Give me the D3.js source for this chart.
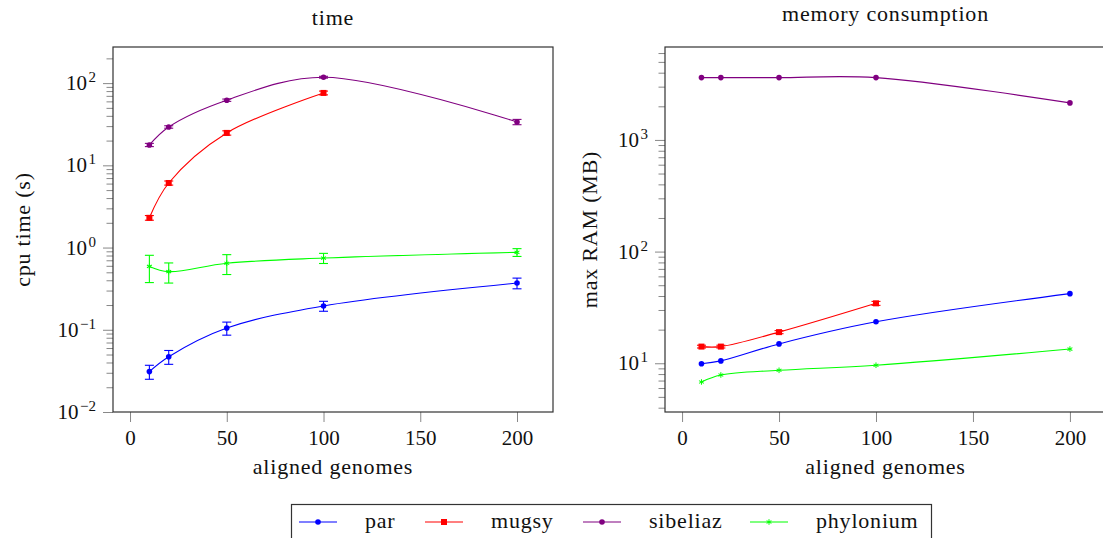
<!DOCTYPE html>
<html>
<head>
<meta charset="utf-8">
<script src="https://cdn.jsdelivr.net/npm/d3@7"></script>
<style>
  body { margin: 0; background: #fff; }
  svg text { font-family: "Liberation Serif", "DejaVu Serif", serif; fill: #111; }
  .lbl { letter-spacing: 0.8px; }
</style>
</head>
<body>
<div id="chart"></div>
<script>
// data
var genomes = [10, 20, 50, 100, 200];
var seriesNames = ["par", "mugsy", "sibeliaz", "phylonium"];
var seriesColors = ["#0000ff", "#ff0000", "#800080", "#00ff00"];
var seriesMarks = ["circle", "square", "circle", "star"];

var timePar = [0.031, 0.047, 0.105, 0.195, 0.37];
var timeParErr = [0.006, 0.009, 0.019, 0.027, 0.055];
var timeMugsy = [2.3, 6.1, 24.8, 76];
var timeMugsyErr = [0.15, 0.35, 1.5, 4];
var timeSibeliaz = [17.7, 29.3, 62, 118, 33.7];
var timeSibeliazErr = [0.8, 1, 2, 3, 2.5];
var timePhylonium = [0.59, 0.51, 0.645, 0.745, 0.875];
var timePhyloniumErr = [0.215, 0.14, 0.175, 0.105, 0.095];

var memPar = [9.9, 10.5, 14.9, 23.5, 42];
var memMugsy = [14.1, 14.1, 19.0, 34.4];
var memMugsyErr = [0.4, 0.4, 0.6, 1.4];
var memSibeliaz = [3615, 3615, 3615, 3615, 2145];
var memPhylonium = [6.8, 7.85, 8.65, 9.6, 13.4];

var xTicks = [0, 50, 100, 150, 200];

var width = 1103, height = 538;
var fontSize = 21;
var labelSize = 22;

var svg = d3.select("#chart").append("svg")
    .attr("width", width)
    .attr("height", height);

function toSeries(vals, errs) {
  return vals.map(function(v, j) {
    return {x: genomes[j], y: v, e: errs ? errs[j] : 0};
  });
}

var timeData = [
  toSeries(timePar, timeParErr),
  toSeries(timeMugsy, timeMugsyErr),
  toSeries(timeSibeliaz, timeSibeliazErr),
  toSeries(timePhylonium, timePhyloniumErr)
];
var memData = [
  toSeries(memPar, null),
  toSeries(memMugsy, memMugsyErr),
  toSeries(memSibeliaz, null),
  toSeries(memPhylonium, null)
];

var panels = [
  {title: "time", titleY: 25, ylabel: "cpu time (s)", ylabelX: 30,
   left: 113, right: 553, yDomain: [0.01, 275], majors: [-2, -1, 0, 1, 2], data: timeData},
  {title: "memory consumption", titleY: 21, ylabel: "max RAM (MB)", ylabelX: 597,
   left: 665, right: 1106, yDomain: [3.66, 6795], majors: [1, 2, 3], data: memData}
];
var plotTop = 47, plotBottom = 412;

function drawMark(sel, kind, color) {
  if (kind == "circle") {
    sel.append("circle").attr("r", 2.8).attr("fill", color);
  } else if (kind == "square") {
    sel.append("rect").attr("x", -3).attr("y", -3).attr("width", 6).attr("height", 6).attr("fill", color);
  } else {
    // small asterisk
    [0, 60, 120].forEach(function(a) {
      sel.append("line")
        .attr("x1", 0).attr("y1", -2.8).attr("x2", 0).attr("y2", 2.8)
        .attr("transform", "rotate(" + a + ")")
        .attr("stroke", color).attr("stroke-width", 1);
    });
  }
}

panels.forEach(function(p) {
  var x = d3.scaleLinear().domain([-8.8, 218.6]).range([p.left, p.right]);
  var y = d3.scaleLog().domain(p.yDomain).range([plotBottom, plotTop]);
  var g = svg.append("g");

  // minor ticks on y
  var minors = [];
  d3.range(Math.floor(Math.log10(p.yDomain[0])), Math.ceil(Math.log10(p.yDomain[1]))).forEach(function(k) {
    for (var m = 2; m <= 9; m++) {
      var v = m * Math.pow(10, k);
      if (v >= p.yDomain[0] && v <= p.yDomain[1]) minors.push(v);
    }
  });
  g.append("g")
    .attr("transform", "translate(" + p.left + ",0)")
    .call(d3.axisLeft(y).tickValues(minors).tickSize(6.5).tickFormat(""))
    .call(function(a) { a.select(".domain").remove(); a.selectAll("line").attr("stroke", "#888"); });

  var majorVals = p.majors.map(function(k) { return Math.pow(10, k); });
  var yAxis = g.append("g")
    .attr("transform", "translate(" + p.left + ",0)")
    .call(d3.axisLeft(y).tickValues(majorVals).tickSize(10).tickFormat(""));
  yAxis.select(".domain").remove();
  yAxis.selectAll("line").attr("stroke", "#888");

  // tick labels 10^k
  p.majors.forEach(function(k) {
    var t = g.append("text")
      .attr("x", p.left - 17)
      .attr("y", y(Math.pow(10, k)) + 7)
      .attr("text-anchor", "end")
      .style("font-size", fontSize + "px");
    t.append("tspan").text("10");
    t.append("tspan").attr("dy", -8).attr("dx", 1.5).style("font-size", "15px").text(k < 0 ? "\u2212" + (-k) : k);
  });

  // x axis
  var xAxis = g.append("g")
    .attr("transform", "translate(0," + plotBottom + ")")
    .call(d3.axisBottom(x).tickValues(xTicks).tickSize(10).tickPadding(8));
  xAxis.select(".domain").remove();
  xAxis.selectAll("line").attr("stroke", "#888");
  xAxis.selectAll("text")
    .style("font-size", fontSize + "px")
    .style("font-family", "'Liberation Serif', serif")
    .attr("fill", "#111");

  // frame
  g.append("rect")
    .attr("x", p.left).attr("y", plotTop)
    .attr("width", p.right - p.left).attr("height", plotBottom - plotTop)
    .attr("fill", "none").attr("stroke", "#333").attr("stroke-width", 1.2);

  // labels
  g.append("text").attr("class", "lbl")
    .attr("x", (p.left + p.right) / 2)
    .attr("y", p.titleY)
    .attr("text-anchor", "middle")
    .style("font-size", labelSize + "px")
    .text(p.title);
  g.append("text").attr("class", "lbl")
    .attr("x", (p.left + p.right) / 2)
    .attr("y", 474)
    .attr("text-anchor", "middle")
    .style("font-size", labelSize + "px")
    .text("aligned genomes");
  g.append("text").attr("class", "lbl")
    .attr("transform", "translate(" + p.ylabelX + "," + (plotTop + plotBottom) / 2 + ") rotate(-90)")
    .attr("text-anchor", "middle")
    .style("font-size", labelSize + "px")
    .text(p.ylabel);

  var line = d3.line()
    .x(function(d) { return x(d.x); })
    .y(function(d) { return y(d.y); })
    .curve(d3.curveCatmullRom.alpha(0.5));

  p.data.forEach(function(series, i) {
    var color = seriesColors[i];
    var sg = g.append("g");
    sg.append("path")
      .attr("d", line(series))
      .attr("fill", "none")
      .attr("stroke", color)
      .attr("stroke-width", 1.1);

    // error bars
    series.filter(function(d) { return d.e > 0; }).forEach(function(d) {
      var cx = x(d.x), y0 = y(d.y - d.e), y1 = y(d.y + d.e);
      sg.append("line").attr("x1", cx).attr("x2", cx).attr("y1", y0).attr("y2", y1)
        .attr("stroke", color).attr("stroke-width", 1.1);
      [y0, y1].forEach(function(yy) {
        sg.append("line").attr("x1", cx - 4.5).attr("x2", cx + 4.5).attr("y1", yy).attr("y2", yy)
          .attr("stroke", color).attr("stroke-width", 1.1);
      });
    });

    sg.selectAll("g.mark").data(series).enter()
      .append("g").attr("class", "mark")
      .attr("transform", function(d) { return "translate(" + x(d.x) + "," + y(d.y) + ")"; })
      .each(function() { drawMark(d3.select(this), seriesMarks[i], color); });
  });
});

// legend
var legendItemX = [299, 425, 583, 750];
var legend = svg.append("g");
legend.append("rect")
  .attr("x", 291.5).attr("y", 504.5)
  .attr("width", 640).attr("height", 50)
  .attr("fill", "none").attr("stroke", "#333").attr("stroke-width", 1.2);
seriesNames.forEach(function(name, i) {
  var lx = legendItemX[i];
  var item = legend.append("g");
  item.append("line")
    .attr("x1", lx).attr("x2", lx + 38).attr("y1", 522).attr("y2", 522)
    .attr("stroke", seriesColors[i]).attr("stroke-width", 1.1);
  var m = item.append("g").attr("transform", "translate(" + (lx + 19) + ",522)");
  drawMark(m, seriesMarks[i], seriesColors[i]);
  item.append("text").attr("class", "lbl")
    .attr("x", lx + 66)
    .attr("y", 528)
    .style("font-size", labelSize + "px")
    .text(name);
});
</script>
</body>
</html>
